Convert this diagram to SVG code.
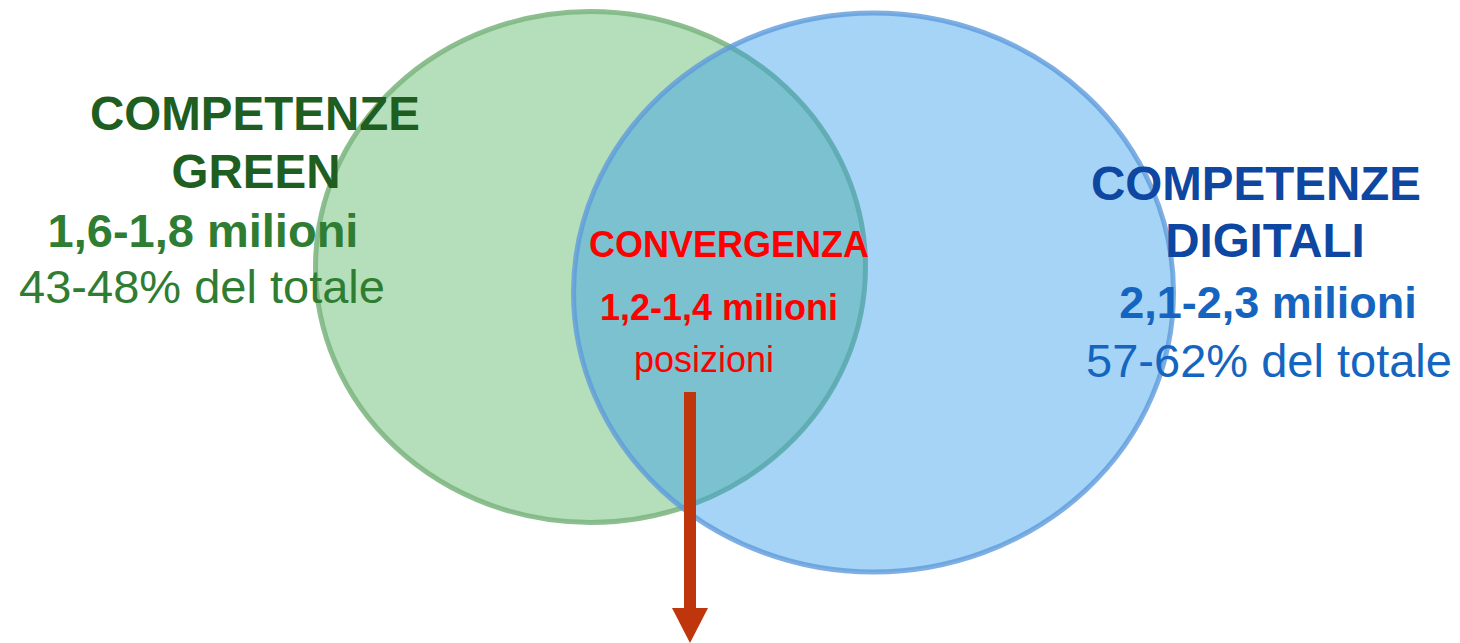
<svg xmlns="http://www.w3.org/2000/svg" width="1460" height="643" viewBox="0 0 1460 643">
  <style>
    text { font-family: "Liberation Sans", Arial, sans-serif; text-anchor: middle; }
    .b { font-weight: bold; }
    .gh { fill: #1E5E20; font-size: 47.5px; font-weight: bold; }
    .gn { fill: #2E7D32; font-size: 47px; }
    .bh { fill: #0D47A1; font-size: 47.5px; font-weight: bold; }
    .bn { fill: #1565C0; }
    .r { fill: #FF0000; font-size: 36px; }
  </style>
  <defs>
    <marker id="ah" viewBox="0 0 35 36" refX="0" refY="18" markerWidth="35" markerHeight="36" markerUnits="userSpaceOnUse" orient="auto">
      <path d="M0,0 L35,18 L0,36 Z" fill="#BF360C"/>
    </marker>
  </defs>
  <rect width="1460" height="643" fill="#FFFFFF"/>
  <g id="green-set">
    <ellipse cx="590.5" cy="267" rx="275" ry="255.5" fill="#B5DFBA" stroke="#80B784" stroke-width="5" stroke-opacity="0.9"/>
  </g>
  <g id="digital-set">
    <ellipse cx="873.5" cy="292.5" rx="300" ry="279.5" fill="#2B98EC" fill-opacity="0.42" stroke="#5F9BDB" stroke-width="5" stroke-opacity="0.8"/>
  </g>
  <g id="green-label">
    <text class="gh" x="255" y="130">COMPETENZE</text>
    <text class="gh" x="256" y="188">GREEN</text>
    <text class="gn b" x="203" y="247">1,6-1,8 milioni</text>
    <text class="gn" x="202" y="303">43-48% del totale</text>
  </g>
  <g id="digital-label">
    <text class="bh" x="1256" y="200">COMPETENZE</text>
    <text class="bh" x="1265" y="257">DIGITALI</text>
    <text class="bn b" x="1268" y="318" font-size="45">2,1-2,3 milioni</text>
    <text class="bn" x="1269" y="377" font-size="47">57-62% del totale</text>
  </g>
  <g id="convergence-label">
    <text class="r b" x="729" y="257" font-size="37">CONVERGENZA</text>
    <text class="r b" x="719" y="320">1,2-1,4 milioni</text>
    <text class="r" x="704" y="372">posizioni</text>
  </g>
  <g id="connectors">
    <line x1="690" y1="392" x2="690" y2="608" stroke="#BF360C" stroke-width="12" marker-end="url(#ah)"/>
  </g>
</svg>
